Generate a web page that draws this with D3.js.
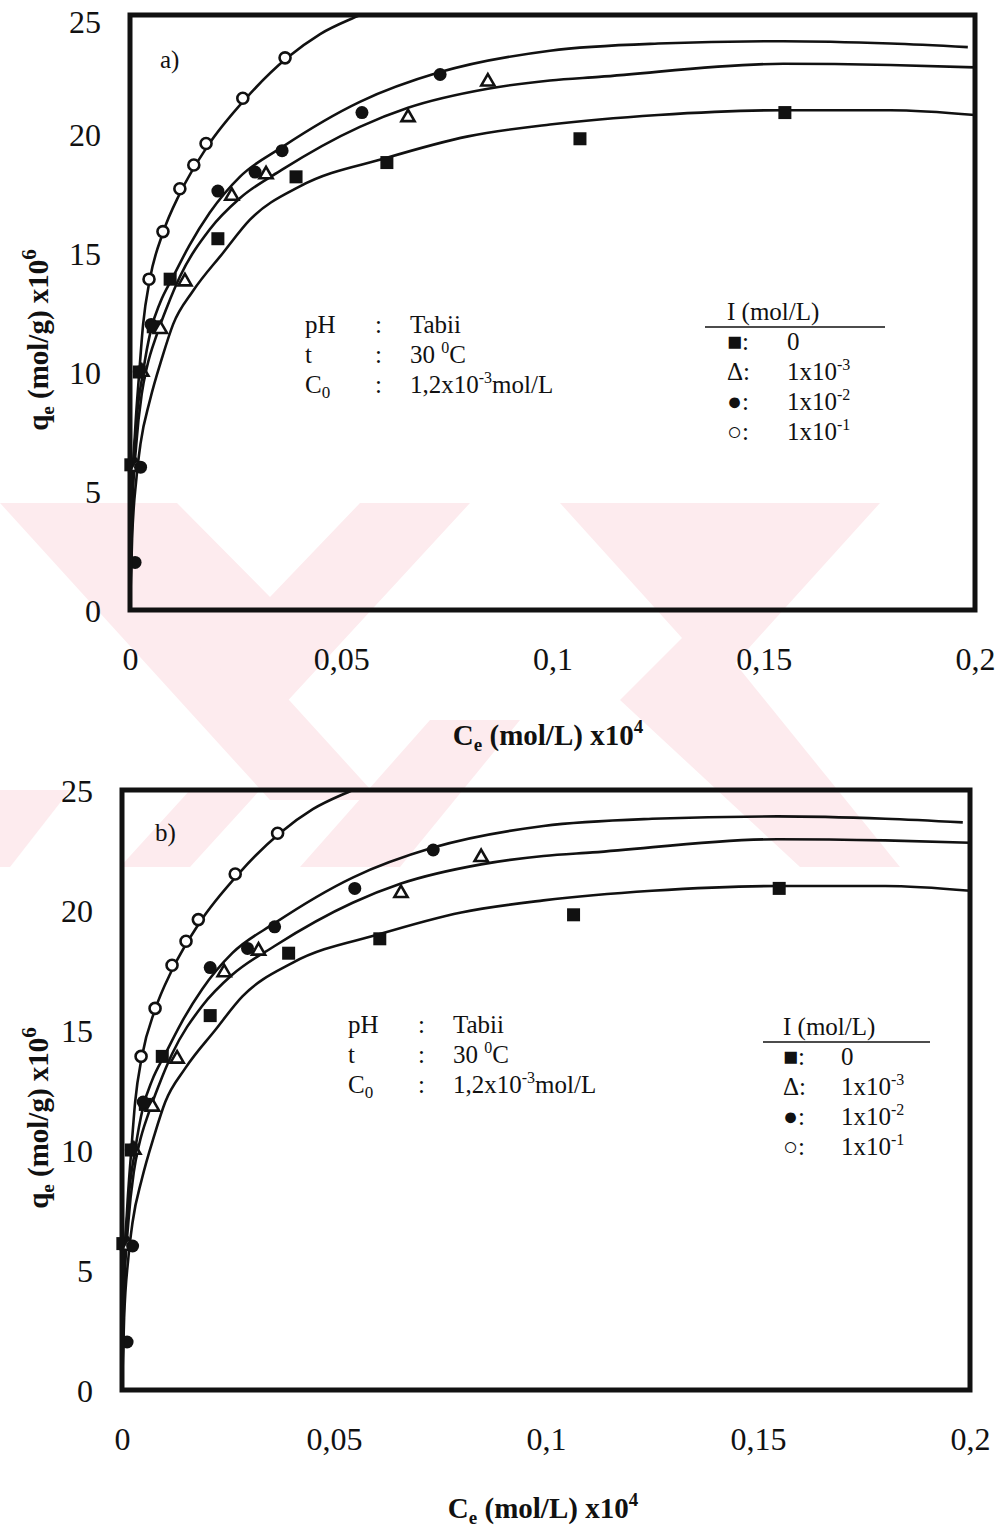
<!DOCTYPE html>
<html>
<head>
<meta charset="utf-8">
<script src="https://cdn.jsdelivr.net/npm/d3@7"></script>
<style>
  body { margin: 0; background: #fff; }
  svg { display: block; }
  text { font-family: "Liberation Serif", "DejaVu Serif", serif; fill: #111; }
</style>
</head>
<body>
<div id="chart"></div>
<script>
// axis ticks
var xTicks = [0, 0.05, 0.1, 0.15, 0.2];
var yTicks = [0, 5, 10, 15, 20, 25];

// ionic strength series (legend order)
var seriesNames = ["0", "1x10-3", "1x10-2", "1x10-1"];

// measured points [Ce x10^4, qe x10^6]
var ptsI0 = [[0.0002, 6.1], [0.0022, 10.0], [0.0055, 11.9], [0.0095, 13.9], [0.0208, 15.6],
  [0.0393, 18.2], [0.0608, 18.8], [0.1065, 19.8], [0.155, 20.9]];
var ptsI3 = [[0.0015, 6.0], [0.0028, 10.0], [0.0072, 11.8], [0.013, 13.8], [0.0241, 17.4],
  [0.0322, 18.3], [0.0658, 20.7], [0.0847, 22.2]];
var ptsI2 = [[0.0012, 2.0], [0.0025, 6.0], [0.0022, 10.0], [0.005, 12.0], [0.0208, 17.6],
  [0.0296, 18.4], [0.036, 19.3], [0.0549, 20.9], [0.0734, 22.5]];
var ptsI1 = [[0.0045, 13.9], [0.0078, 15.9], [0.0118, 17.7], [0.0151, 18.7], [0.018, 19.6],
  [0.0267, 21.5], [0.0367, 23.2]];

// fitted curves
var fitI0 = [[0, 0], [0.0005, 3.0], [0.0015, 5.5], [0.0025, 7.0], [0.0047, 8.8], [0.0076, 10.6],
  [0.0102, 12.0], [0.0149, 13.4], [0.022, 15.0], [0.0284, 16.4], [0.0402, 17.8], [0.0608, 19.0],
  [0.08, 19.9], [0.0994, 20.4], [0.125, 20.8], [0.1546, 21.0], [0.18, 21.0], [0.2, 20.8]];
var fitI3 = [[0, 0], [0.0005, 4.0], [0.0015, 7.0], [0.0028, 9.1], [0.004, 10.2], [0.0064, 11.6],
  [0.0087, 12.7], [0.0118, 14.0], [0.0189, 16.0], [0.026, 17.3], [0.036, 18.5], [0.0544, 20.3],
  [0.0658, 21.1], [0.0847, 21.9], [0.0994, 22.25], [0.111, 22.4], [0.1546, 22.95], [0.18, 22.9], [0.2, 22.8]];
var fitI2 = [[0, 0], [0.0005, 4.5], [0.0015, 7.8], [0.0031, 10.0], [0.005, 11.8], [0.0071, 12.9],
  [0.0102, 14.0], [0.014, 15.3], [0.0189, 16.7], [0.026, 18.2], [0.036, 19.45], [0.0544, 21.35],
  [0.0734, 22.6], [0.0994, 23.5], [0.125, 23.8], [0.1546, 23.9], [0.18, 23.8], [0.1983, 23.65]];
var fitI1 = [[0, 0], [0.0004, 4.5], [0.0012, 7.5], [0.0022, 10.0], [0.0031, 12.0], [0.0047, 13.9],
  [0.0078, 15.85], [0.0118, 17.5], [0.0182, 19.45], [0.0277, 21.55], [0.0372, 23.2], [0.045, 24.2],
  [0.0544, 25.0], [0.07, 26.2], [0.09, 27.3]];

var width = 1003;
var height = 1531;

var svg = d3.select("#chart").append("svg")
  .attr("width", width)
  .attr("height", height);

// faint pink watermark behind everything
var wm = svg.append("g").attr("fill", "#fdebee");
var wmShapes = [
  [[0, 503], [110, 503], [380, 800], [270, 800]],
  [[177, 503], [270, 597], [360, 503], [470, 503], [270, 720], [60, 503]],
  [[560, 503], [880, 503], [720, 680]],
  [[300, 867], [430, 720], [520, 720], [400, 867]],
  [[620, 700], [700, 620], [900, 867], [800, 867]],
  [[0, 790], [70, 790], [10, 867], [0, 867]],
  [[120, 867], [190, 790], [260, 790], [190, 867]]
];
wm.selectAll("polygon").data(wmShapes).enter().append("polygon")
  .attr("points", function(d) { return d.map(function(p) { return p.join(","); }).join(" "); });

var commaFmt = d3.formatLocale({decimal: ",", thousands: ".", grouping: [3], currency: ["", ""]}).format("~g");

var panels = [
  {tag: "a)", left: 130, right: 975, top: 15, bottom: 610,
    tagX: 160, tagY: 68, infoX: 305, infoY: 333, legX: 727, legY: 320, valX: 787, lineX1: 705, lineX2: 885,
    yTitleX: 48, yTitleY: 340, xTitleX: 548, xTitleY: 745},
  {tag: "b)", left: 122, right: 970, top: 790, bottom: 1390,
    tagX: 155, tagY: 841, infoX: 348, infoY: 1033, legX: 783, legY: 1035, valX: 841, lineX1: 763, lineX2: 930,
    yTitleX: 48, yTitleY: 1118, xTitleX: 543, xTitleY: 1518}
];

var allPts = [ptsI0, ptsI3, ptsI2, ptsI1];
var allFits = [fitI0, fitI3, fitI2, fitI1];

panels.forEach(function(p, pi) {
  var g = svg.append("g");

  var xScale = d3.scaleLinear().domain([0, 0.2]).range([p.left, p.right]);
  var yScale = d3.scaleLinear().domain([0, 25]).range([p.bottom, p.top]);

  var xAxis = d3.axisBottom(xScale).tickValues(xTicks).tickSize(0).tickPadding(37).tickFormat(commaFmt);
  var yAxis = d3.axisLeft(yScale).tickValues(yTicks).tickSize(0).tickPadding(29);

  var xa = g.append("g").attr("transform", "translate(0," + p.bottom + ")").call(xAxis);
  var ya = g.append("g").attr("transform", "translate(" + p.left + ",0)").call(yAxis);
  [xa, ya].forEach(function(a) {
    a.select(".domain").remove();
    a.selectAll("text").attr("font-family", "Liberation Serif").attr("font-size", 32).attr("fill", "#111");
  });
  ya.selectAll("text").attr("dy", "0.35em");
  // keep the top label of the upper panel inside the page
  if (p.top < 30) {
    ya.selectAll("text").filter(function(d) { return d === 25; }).attr("dy", "0.55em");
  }

  // clip for curves
  var clipId = "clip" + pi;
  svg.append("clipPath").attr("id", clipId).append("rect")
    .attr("x", p.left).attr("y", p.top)
    .attr("width", p.right - p.left).attr("height", p.bottom - p.top);

  var line = d3.line()
    .x(function(d) { return xScale(d[0]); })
    .y(function(d) { return yScale(d[1]); })
    .curve(d3.curveMonotoneX);

  g.append("g").attr("clip-path", "url(#" + clipId + ")")
    .selectAll("path").data(allFits).enter().append("path")
    .attr("d", line)
    .attr("fill", "none")
    .attr("stroke", "#111")
    .attr("stroke-width", 2.6);

  // markers
  var mk = g.append("g");
  mk.selectAll("rect.sq").data(ptsI0).enter().append("rect")
    .attr("class", "sq")
    .attr("x", function(d) { return xScale(d[0]) - 6.5; })
    .attr("y", function(d) { return yScale(d[1]) - 6.5; })
    .attr("width", 13).attr("height", 13)
    .attr("fill", "#111");
  mk.selectAll("path.tri").data(ptsI3).enter().append("path")
    .attr("class", "tri")
    .attr("d", d3.symbol().type(d3.symbolTriangle).size(75))
    .attr("transform", function(d) { return "translate(" + xScale(d[0]) + "," + yScale(d[1]) + ")"; })
    .attr("fill", "#fff").attr("stroke", "#111").attr("stroke-width", 2.6);
  mk.selectAll("circle.fc").data(ptsI2).enter().append("circle")
    .attr("class", "fc")
    .attr("cx", function(d) { return xScale(d[0]); })
    .attr("cy", function(d) { return yScale(d[1]); })
    .attr("r", 6.5).attr("fill", "#111");
  mk.selectAll("circle.oc").data(ptsI1).enter().append("circle")
    .attr("class", "oc")
    .attr("cx", function(d) { return xScale(d[0]); })
    .attr("cy", function(d) { return yScale(d[1]); })
    .attr("r", 5.5).attr("fill", "#fff").attr("stroke", "#111").attr("stroke-width", 2.6);

  // frame
  g.append("rect")
    .attr("x", p.left).attr("y", p.top)
    .attr("width", p.right - p.left).attr("height", p.bottom - p.top)
    .attr("fill", "none").attr("stroke", "#111").attr("stroke-width", 5);

  // panel tag
  g.append("text").attr("x", p.tagX).attr("y", p.tagY).attr("font-size", 25).text(p.tag);

  // conditions block
  var info = [["pH", "Tabii"], ["t", null], ["C", null]];
  var ib = g.append("g").attr("font-size", 25);
  info.forEach(function(r, i) {
    var yy = p.infoY + i * 30;
    var t0 = ib.append("text").attr("x", p.infoX).attr("y", yy);
    t0.append("tspan").text(r[0]);
    if (i === 2) t0.append("tspan").attr("font-size", 17).attr("dy", 5).text("0");
    ib.append("text").attr("x", p.infoX + 70).attr("y", yy).text(":");
    var t1 = ib.append("text").attr("x", p.infoX + 105).attr("y", yy);
    if (i === 0) t1.text("Tabii");
    if (i === 1) {
      t1.append("tspan").text("30 ");
      t1.append("tspan").attr("font-size", 16).attr("dy", -10).text("0");
      t1.append("tspan").attr("dy", 10).text("C");
    }
    if (i === 2) {
      t1.append("tspan").text("1,2x10");
      t1.append("tspan").attr("font-size", 16).attr("dy", -10).text("-3");
      t1.append("tspan").attr("dy", 10).text("mol/L");
    }
  });

  // legend
  var lg = g.append("g").attr("font-size", 25);
  lg.append("text").attr("x", p.legX).attr("y", p.legY).text("I (mol/L)");
  lg.append("line")
    .attr("x1", p.lineX1).attr("x2", p.lineX2)
    .attr("y1", p.legY + 7).attr("y2", p.legY + 7)
    .attr("stroke", "#111").attr("stroke-width", 1.6);
  var glyphs = ["\u25A0:", "\u0394:", "\u25CF:", "\u25CB:"];
  seriesNames.forEach(function(s, i) {
    var yy = p.legY + 30 + i * 30;
    lg.append("text").attr("x", p.legX).attr("y", yy).text(glyphs[i]);
    var t = lg.append("text").attr("x", p.valX).attr("y", yy);
    if (s === "0") { t.text("0"); }
    else {
      var parts = s.split("-");
      t.append("tspan").text(parts[0]);
      t.append("tspan").attr("font-size", 16).attr("dy", -10).text("-" + parts[1]);
    }
  });

  // axis titles
  var yt = g.append("text")
    .attr("transform", "translate(" + p.yTitleX + "," + p.yTitleY + ") rotate(-90)")
    .attr("text-anchor", "middle").attr("font-size", 29).attr("font-weight", "bold");
  yt.append("tspan").text("q");
  yt.append("tspan").attr("font-size", 19).attr("dy", 6).text("e");
  yt.append("tspan").attr("dy", -6).text(" (mol/g) x10");
  yt.append("tspan").attr("font-size", 21).attr("dy", -12).text("6");

  var xt = g.append("text")
    .attr("x", p.xTitleX).attr("y", p.xTitleY)
    .attr("text-anchor", "middle").attr("font-size", 29).attr("font-weight", "bold");
  xt.append("tspan").text("C");
  xt.append("tspan").attr("font-size", 19).attr("dy", 6).text("e");
  xt.append("tspan").attr("dy", -6).text(" (mol/L) x10");
  xt.append("tspan").attr("font-size", 19).attr("dy", -12).text("4");
});
</script>
</body>
</html>
